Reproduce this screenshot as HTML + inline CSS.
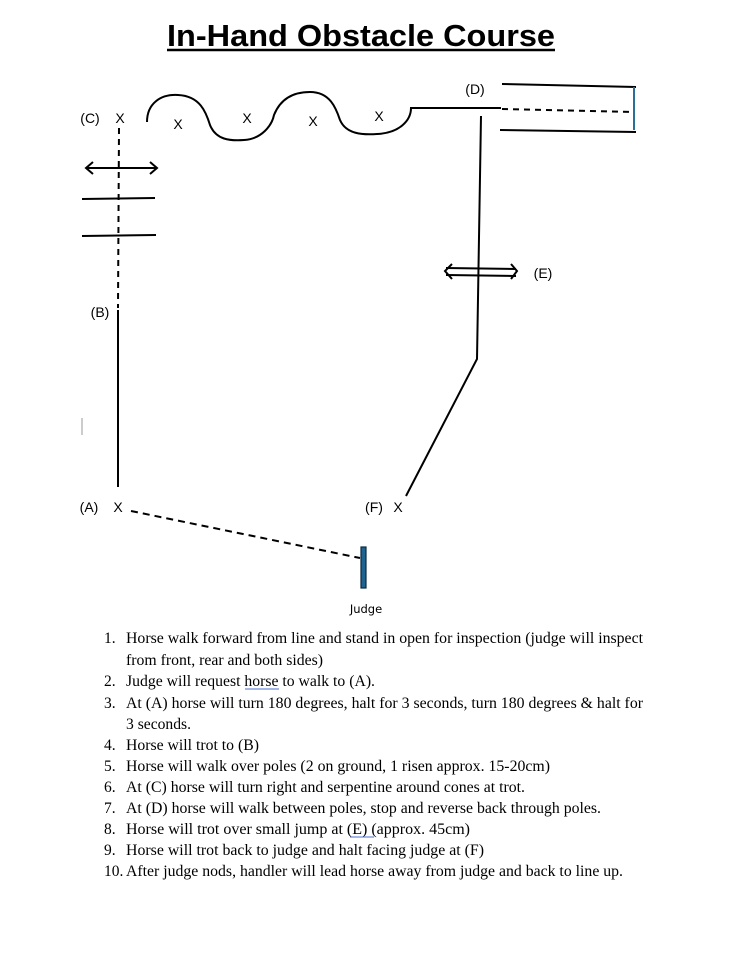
<!DOCTYPE html>
<html><head><meta charset="utf-8"><style>
html,body{margin:0;padding:0;background:#fff;}
svg{display:block;}
.s{font-family:"Liberation Sans",sans-serif;font-size:14px;fill:#000;}
.t{font-family:"Liberation Serif",serif;font-size:15.5px;fill:#000;}
</style></head><body>
<svg width="731" height="954" viewBox="0 0 731 954" xmlns="http://www.w3.org/2000/svg">
<text x="167" y="46" font-family="Liberation Sans,sans-serif" font-weight="bold" font-size="31" textLength="388" lengthAdjust="spacingAndGlyphs">In-Hand Obstacle Course</text>
<line x1="167" y1="50" x2="555" y2="50" stroke="#000" stroke-width="2.5"/>
<g fill="none" stroke="#000" stroke-width="2">
<line x1="119" y1="128" x2="118" y2="308" stroke-dasharray="6,5"/>
<line x1="118" y1="310" x2="118" y2="487"/>
<line x1="86" y1="168" x2="157" y2="168"/>
<polyline points="93,162 86,168 93,174"/><polyline points="150,162 157,168 150,174"/>
<line x1="82" y1="199" x2="155" y2="198"/>
<line x1="82" y1="236" x2="156" y2="235"/>
<path d="M147,122 C147,104 160,94 178,95 C200,96 206,112 210,125 C216,140 230,141 244,140 C262,139 272,125 274,115 C280,100 292,92 310,92 C330,92 336,108 340,120 C346,134 362,135 377,134 C400,133 411,120 411,108 L501,108"/>
<line x1="502" y1="84" x2="636" y2="87"/>
<line x1="500" y1="130" x2="636" y2="132"/>
<line x1="502" y1="109" x2="633" y2="112" stroke-dasharray="6,5"/>
<line x1="634" y1="87" x2="634" y2="130" stroke="#2a6f9a"/>
<polyline points="481,116 477,359 406,496"/>
<line x1="446" y1="268" x2="516" y2="269"/><line x1="446" y1="275" x2="516" y2="276"/>
<polyline points="452,264 445,271 452,279"/><polyline points="511,264 517,271 511,279"/>
<line x1="131" y1="511" x2="360" y2="558" stroke-dasharray="7,5"/>
</g>
<line x1="82" y1="418" x2="82" y2="435" stroke="#999" stroke-width="1"/>
<rect x="361" y="547" width="5" height="41" fill="#1f6391" stroke="#0a2a40" stroke-width="1.2"/>
<text class="s" x="90" y="123" text-anchor="middle">(C)</text>
<text class="s" x="120" y="123" text-anchor="middle">X</text>
<text class="s" x="178" y="129" text-anchor="middle">X</text>
<text class="s" x="247" y="123" text-anchor="middle">X</text>
<text class="s" x="313" y="126" text-anchor="middle">X</text>
<text class="s" x="379" y="121" text-anchor="middle">X</text>
<text class="s" x="475" y="94" text-anchor="middle">(D)</text>
<text class="s" x="543" y="278" text-anchor="middle">(E)</text>
<text class="s" x="100" y="317" text-anchor="middle">(B)</text>
<text class="s" x="89" y="512" text-anchor="middle">(A)</text>
<text class="s" x="118" y="512" text-anchor="middle">X</text>
<text class="s" x="374" y="512" text-anchor="middle">(F)</text>
<text class="s" x="398" y="512" text-anchor="middle">X</text>
<text x="366" y="613" text-anchor="middle" font-family="DejaVu Sans,sans-serif" font-size="11.5">Judge</text>
<g class="t">
<text x="104" y="643">1.</text><text x="126" y="643" textLength="517" lengthAdjust="spacingAndGlyphs">Horse walk forward from line and stand in open for inspection (judge will inspect</text>
<text x="126" y="665" textLength="197" lengthAdjust="spacingAndGlyphs">from front, rear and both sides)</text>
<text x="104" y="686">2.</text><text x="126" y="686" textLength="249" lengthAdjust="spacingAndGlyphs">Judge will request horse to walk to (A).</text>
<text x="104" y="708">3.</text><text x="126" y="708" textLength="517" lengthAdjust="spacingAndGlyphs">At (A) horse will turn 180 degrees, halt for 3 seconds, turn 180 degrees &amp; halt for</text>
<text x="126" y="729" textLength="65" lengthAdjust="spacingAndGlyphs">3 seconds.</text>
<text x="104" y="750">4.</text><text x="126" y="750" textLength="133" lengthAdjust="spacingAndGlyphs">Horse will trot to (B)</text>
<text x="104" y="771">5.</text><text x="126" y="771" textLength="424" lengthAdjust="spacingAndGlyphs">Horse will walk over poles (2 on ground, 1 risen approx. 15-20cm)</text>
<text x="104" y="792">6.</text><text x="126" y="792" textLength="399" lengthAdjust="spacingAndGlyphs">At (C) horse will turn right and serpentine around cones at trot.</text>
<text x="104" y="813">7.</text><text x="126" y="813" textLength="475" lengthAdjust="spacingAndGlyphs">At (D) horse will walk between poles, stop and reverse back through poles.</text>
<text x="104" y="834">8.</text><text x="126" y="834" textLength="344" lengthAdjust="spacingAndGlyphs">Horse will trot over small jump at (E)  (approx. 45cm)</text>
<text x="104" y="855">9.</text><text x="126" y="855" textLength="358" lengthAdjust="spacingAndGlyphs">Horse will trot back to judge and halt facing judge at (F)</text>
<text x="104" y="876">10.</text><text x="126" y="876" textLength="497" lengthAdjust="spacingAndGlyphs">After judge nods, handler will lead horse away from judge and back to line up.</text>
</g>
<line x1="245" y1="689" x2="279" y2="689" stroke="#4a6fd0" stroke-width="1"/>
<line x1="350" y1="837" x2="374" y2="837" stroke="#4a6fd0" stroke-width="1"/>
</svg>
</body></html>
